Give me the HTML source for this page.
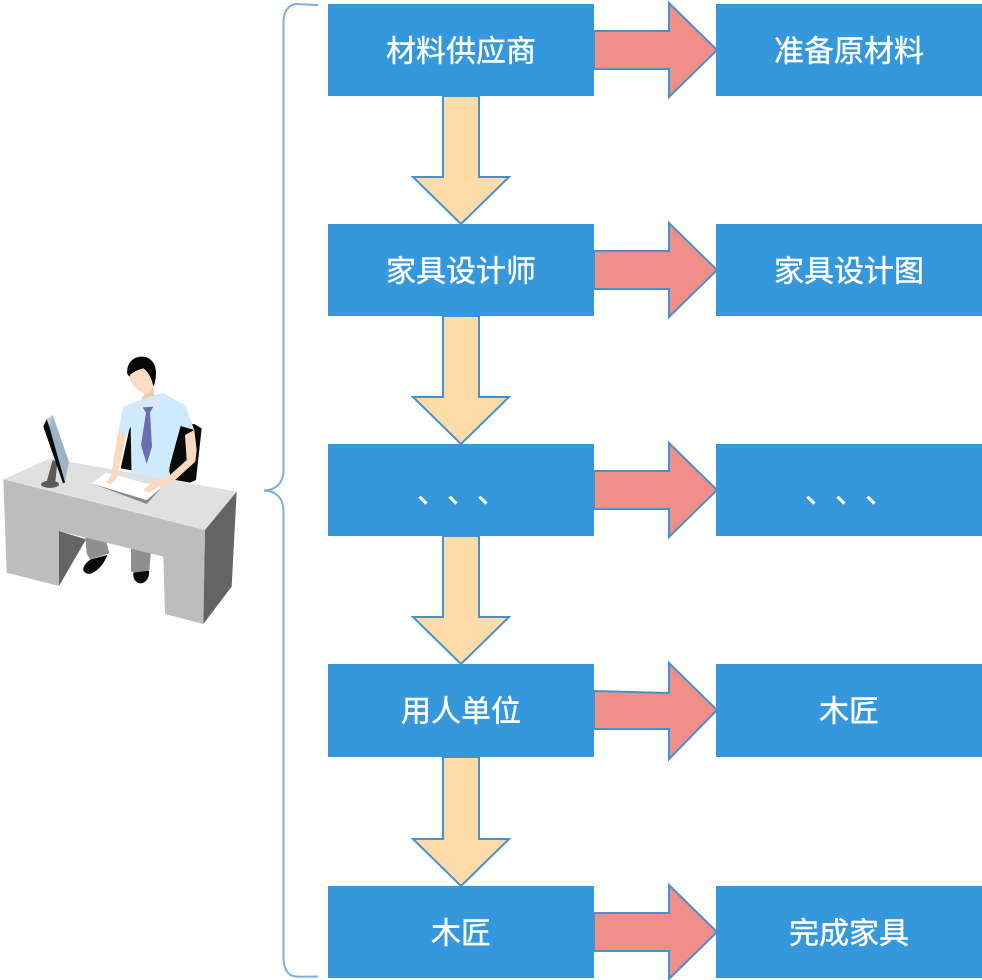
<!DOCTYPE html>
<html>
<head>
<meta charset="utf-8">
<style>
html,body{margin:0;padding:0;background:#fff;width:982px;height:980px;overflow:hidden}
svg{display:block}
text{font-family:"Liberation Sans","Noto Sans CJK SC",sans-serif;font-size:30px;fill:#fff;stroke:#fff;stroke-width:.4px;text-anchor:middle;dominant-baseline:central}
text.c{text-anchor:start}
</style>
</head>
<body>
<svg width="982" height="980" viewBox="0 0 982 980" xmlns="http://www.w3.org/2000/svg">
<path d="M318 5C306 5 300 4 296 4C288 5 283.500 12 283.500 22V470C283.500 482 277 490 264 490.500C277 491 283.500 499 283.500 511V958C283.500 969 288 976 296 976.500C300 977 306 976.500 318 976.500" fill="none" stroke="#7faddd" stroke-width="2"/>

<g fill="#3598dc">
<rect x="328" y="4" width="266" height="92"/><rect x="716" y="4" width="266" height="92"/>
<rect x="328" y="224" width="266" height="92"/><rect x="716" y="224" width="266" height="92"/>
<rect x="328" y="444" width="266" height="92"/><rect x="716" y="444" width="266" height="92"/>
<rect x="328" y="664" width="266" height="93"/><rect x="716" y="664" width="266" height="93"/>
<rect x="328" y="886" width="266" height="92"/><rect x="716" y="886" width="266" height="92"/>
</g>

<g fill="#fddcaa" stroke="#4a90c8" stroke-width="2" stroke-linejoin="miter">
<path d="M443 96H479V177H509L461 224L413 177H443Z"/>
<path d="M443 316H479V397H509L461 444L413 397H443Z"/>
<path d="M443 536H479V617H509L461 664L413 617H443Z"/>
<path d="M443 757H479V839H509L461 886L413 839H443Z"/>
</g>

<g fill="#ef8f88" stroke="#4a90c8" stroke-width="2" stroke-linejoin="miter">
<path d="M594 31H669V3L717 50L669 97V69H594Z"/>
<path d="M594 251H669V223L717 270L669 317V289H594Z"/>
<path d="M594 471H669V443L717 490L669 537V509H594Z"/>
<path d="M594 691L669 693V663L717 710L669 759V729H594Z"/>
<path d="M594 913H669V885L717 932L669 979V951H594Z"/>
</g>

<text x="461" y="52">材料供应商</text><text x="849" y="52">准备原材料</text>
<text x="461" y="272">家具设计师</text><text x="849" y="272">家具设计图</text>
<text class="c" x="417" y="493">、</text><text class="c" x="447" y="493">、</text><text class="c" x="477" y="493">、</text>
<text class="c" x="805" y="493">、</text><text class="c" x="835" y="493">、</text><text class="c" x="865" y="493">、</text>
<text x="461" y="712">用人单位</text><text x="849" y="712">木匠</text>
<text x="461" y="934">木匠</text><text x="849" y="934">完成家具</text>

<!-- chair, person -->
<g transform="translate(90,350) scale(0.33333)">
<path d="M120 228L92 355L130 362L135 230Z" fill="#0a0a0a"/>
<path d="M272 225L236 360L245 388L300 398L318 390L335 235L313 222Z" fill="#0a0a0a"/>
</g>
<g transform="translate(70,520) scale(0.33333)">
<path d="M45 40L110 68L118 100L60 118L50 100Z" fill="#8f8f8f"/>
<path d="M183 60L245 70L238 150L210 160L183 155Z" fill="#8f8f8f"/>
<path d="M62 118L112 105C105 125 90 148 65 160C50 165 38 155 40 145C42 135 52 125 62 118Z" fill="#0a0a0a"/>
<path d="M190 158L237 152C240 170 228 190 212 190C197 190 188 175 190 158Z" fill="#0a0a0a"/>
</g>
<g transform="translate(90,350) scale(0.33333)">
<path d="M165 130L190 108L192 135L218 135L150 155Z" fill="#f4c6a2"/>
<path d="M150 150L218 128L285 165L313 240L272 228L240 340L232 410L125 400L122 230L108 258L86 240L100 170Z" fill="#cfeafd"/>
<path d="M150 148L160 188L177 170L205 188L218 128L178 160Z" fill="#dbe6f6"/>
<path d="M158 172L190 170L180 188L186 290L170 342L153 285L168 188Z" fill="#6b6eac"/>
<path d="M112 72C108 40 130 20 155 20C180 20 198 38 198 70C198 85 195 100 190 110C185 85 175 68 160 55C145 60 125 65 118 80Z" fill="#050505"/>
<path d="M118 80C125 68 145 62 160 55C178 68 187 90 190 112C185 125 175 132 165 132C140 120 122 102 118 80Z" fill="#fbdcc4"/>
</g>
<!-- desk -->
<g transform="translate(0,340) scale(0.33333)">
<path d="M10 418L150 355L710 455L615 570Z" fill="#e0e0e0"/>
<path d="M10 418L20 698L177 738V573L490 650L495 822L610 852L615 570Z" fill="#bdbdbd"/>
<path d="M615 570L710 455L695 740L610 852Z" fill="#646464"/>
<path d="M177 573L258 598L177 738Z" fill="#646464"/>
</g>
<!-- monitor -->
<g transform="translate(30,405) scale(0.33333)">
<ellipse cx="60" cy="238" rx="27" ry="11" fill="#5a5a5a"/>
<path d="M68 165L82 172L76 230H50Z" fill="#5a5a5a"/>
<path d="M68 30L117 170L105 232L58 65Z" fill="#9db4c8"/>
<path d="M50 42L68 30L58 65Z" fill="#c8c8c8"/>
<path d="M40 65L50 42L58 65L105 232L99 235Z" fill="#0a0a0a"/>
</g>
<!-- paper, arms -->
<g transform="translate(90,350) scale(0.33333)">
<path d="M5 400L170 462L213 415L170 450Z" fill="#8a8a8a"/>
<path d="M5 400L48 368L213 412L170 450Z" fill="#fff"/>
<path d="M86 240L108 258L92 330L80 385L62 403L47 397L65 375L70 330Z" fill="#fbd9c0"/>
<path d="M285 255L313 240L320 300L316 335L250 395L200 415L175 428L160 420L185 398L240 375L290 330Z" fill="#fbd9c0"/>
</g>
</svg>
</body>
</html>
